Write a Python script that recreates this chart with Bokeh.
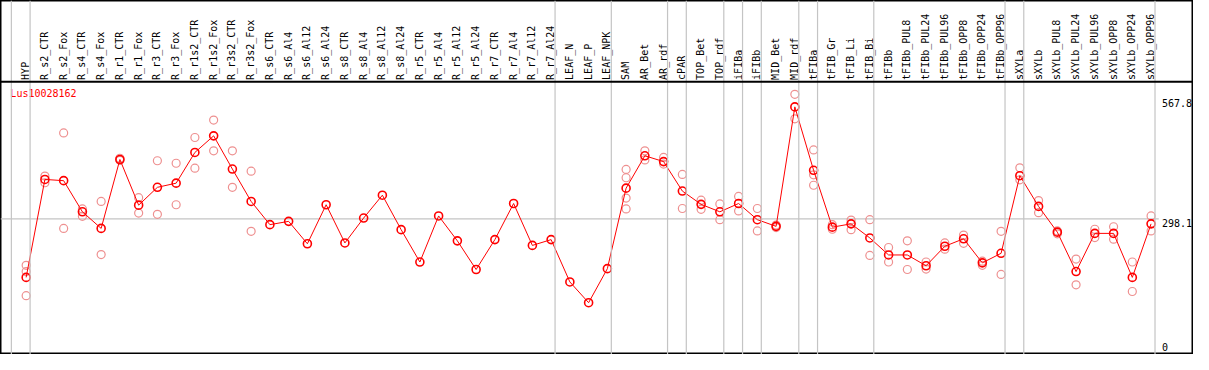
from bokeh.plotting import figure
from bokeh.models import Range1d, Span, ColumnDataSource
from bokeh.embed import file_html
from bokeh.resources import INLINE
from bokeh.core.properties import value
import math

# ---------------- data ----------------
gene = "Lus10028162"

categories = [
    "HYP", "R_s2_CTR", "R_s2_Fox", "R_s4_CTR", "R_s4_Fox", "R_r1_CTR", "R_r1_Fox",
    "R_r3_CTR", "R_r3_Fox", "R_r1s2_CTR", "R_r1s2_Fox", "R_r3s2_CTR", "R_r3s2_Fox",
    "R_s6_CTR", "R_s6_Al4", "R_s6_Al12", "R_s6_Al24", "R_s8_CTR", "R_s8_Al4",
    "R_s8_Al12", "R_s8_Al24", "R_r5_CTR", "R_r5_Al4", "R_r5_Al12", "R_r5_Al24",
    "R_r7_CTR", "R_r7_Al4", "R_r7_Al12", "R_r7_Al24", "LEAF_N", "LEAF_P", "LEAF_NPK",
    "SAM", "AR_Bet", "AR_rdf", "cPAR", "TOP_Bet", "TOP_rdf", "iFIBa", "iFIBb",
    "MID_Bet", "MID_rdf", "tFIBa", "tFIB_Gr", "tFIB_Li", "tFIB_Bi", "tFIBb",
    "tFIBb_PUL8", "tFIBb_PUL24", "tFIBb_PUL96", "tFIBb_OPP8", "tFIBb_OPP24",
    "tFIBb_OPP96", "sXYLa", "sXYLb", "sXYLb_PUL8", "sXYLb_PUL24", "sXYLb_PUL96",
    "sXYLb_OPP8", "sXYLb_OPP24", "sXYLb_OPP96",
]

means = [
    157, 393, 390, 315, 275, 441, 331, 374, 384, 458, 498, 418, 340,
    284, 292, 238, 332, 240, 300, 355, 272, 194, 305, 245, 176, 248, 335, 234, 248,
    146, 96, 178,
    372, 450, 436, 365, 333, 315, 335, 296, 280, 567.8,
    415, 278, 286, 252, 211, 211, 185, 232, 250, 192, 215,
    402, 328, 266, 171, 263, 263, 157, 286,
]

replicates = [
    [186, 171, 113], [401, 385], [505, 275], [322, 304], [340, 212], [444, 439],
    [349, 312], [438, 309], [432, 332], [494, 420], [536, 462], [462, 374], [413, 268],
    [], [], [], [], [], [], [], [], [], [], [], [], [], [], [], [],
    [], [], [],
    [417, 397, 348, 322], [462, 440], [446, 430], [405, 323], [343, 321], [334, 296],
    [352, 317], [323, 269], [283, 277], [598, 539],
    [464, 404, 379], [284, 273], [295, 272], [296, 210], [229, 194], [245, 176],
    [194, 177], [240, 225], [259, 239], [196, 186], [268, 164],
    [421, 392], [342, 313], [269, 262], [201, 139], [273, 253], [279, 249],
    [194, 123], [305, 269],
]

group_sizes = [1, 28, 3, 3, 1, 2, 1, 1, 2, 1, 3, 7, 1, 7]
overall_mean = 298.1

# ---------------- layout (reference pixel geometry) ----------------
REF_W, REF_H = 1209, 370
SLOT_PX, FIRST_SLOT_PX = 19.0, 11.0
ZERO_PX, PX_PER_UNIT = 357.5, 0.4338
PT_OFF = 15.0 / 19.0


def vy(py):
    return (ZERO_PX - py) / PX_PER_UNIT


def ux(px):
    return (px - FIRST_SLOT_PX) / SLOT_PX


W, H = 1193, 354
p = figure(
    width=W, height=H, output_backend="svg", toolbar_location=None,
    x_range=Range1d(ux(0), ux(REF_W)), y_range=Range1d(vy(REF_H), vy(0)),
    x_axis_location=None, y_axis_location=None, min_border=0,
    background_fill_color="white", border_fill_color="white",
)
p.grid.visible = False
p.outline_line_color = "black"
p.outline_line_width = 2

GRAY = "#c4c4c4"
# group separators
bounds = [0]
for g in group_sizes:
    bounds.append(bounds[-1] + g)
for b in bounds:
    p.add_layout(Span(location=b, dimension="height", line_color=GRAY, line_width=1.2))

# horizontal reference (mean) line
p.segment(x0=[ux(0)], x1=[bounds[-1] + 0.2], y0=[overall_mean], y1=[overall_mean],
          line_color=GRAY, line_width=1.2)

# header separator
p.add_layout(Span(location=vy(85), dimension="width", line_color="black", line_width=2))

xs = [i + PT_OFF for i in range(len(categories))]

# replicates
rx, ry = [], []
for i, reps in enumerate(replicates):
    for r in reps:
        rx.append(xs[i])
        ry.append(r)
p.scatter(rx, ry, marker="circle", size=8, fill_color=None,
          line_color="#ee9090", line_width=1.2)

# mean line + markers
p.line(xs, means, line_color="#ff0000", line_width=1)
p.scatter(xs, means, marker="circle", size=8, fill_color=None,
          line_color="#ff0000", line_width=1.6)

FONT = value("DejaVu Sans Mono")

# category labels
lab = ColumnDataSource(dict(x=[x - 0.03 for x in xs], y=[vy(83)] * len(xs), t=categories))
p.text(x="x", y="y", text="t", source=lab, angle=math.pi / 2, text_align="left",
       text_baseline="middle", text_font=FONT, text_font_size="10px", text_color="black")

# gene title
p.text(x=[ux(10)], y=[vy(97)], text=[gene], text_align="left", text_baseline="middle",
       text_font=FONT, text_font_size="10px", text_color="#ff0000")

# right-side value labels
off = 4.5 / PX_PER_UNIT
mx = max(means)
p.text(x=[ux(1177)] * 3, y=[mx + off, overall_mean - off, 0 - off],
       text=[f"{mx:.1f}", f"{overall_mean:.1f}", "0"], text_align="left",
       text_baseline="middle", text_font=FONT, text_font_size="10px", text_color="black")

open("out.html", "w").write(file_html(p, INLINE))
